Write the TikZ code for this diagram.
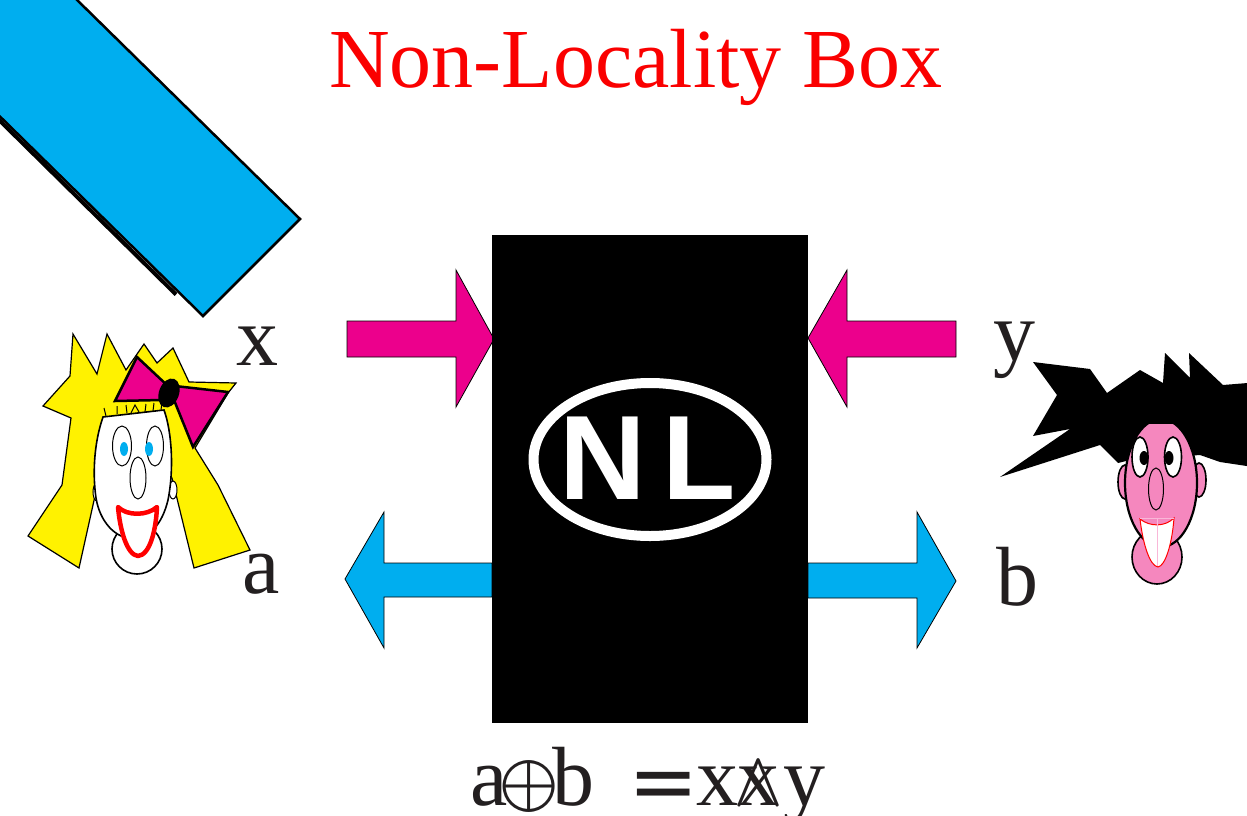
\documentclass[tikz,border=0pt]{standalone}
\usepackage{fontspec}
\setmainfont{Liberation Serif}
\newfontfamily\nlfont{Liberation Sans}
\newfontfamily\symfont{DejaVu Sans}
\newfontfamily\lmmath{latinmodern-math.otf}
\definecolor{barblue}{RGB}{0,174,239}
\definecolor{arrowpink}{RGB}{236,0,140}
\definecolor{hairyellow}{RGB}{255,242,0}
\definecolor{skinpink}{RGB}{245,135,190}
\definecolor{ink}{RGB}{35,31,32}
\definecolor{titlered}{RGB}{250,0,0}
\tikzset{
  letter/.style={inner sep=0pt, text=ink, anchor=base, font=\fontsize{84}{84}\selectfont},
  blockarrow/.style={draw=black, line width=0.8pt, line join=miter},
  outl/.style={draw=black, line width=1.6pt},
  thinoutl/.style={draw=black, line width=1pt},
}
\begin{document}
\begin{tikzpicture}[x=1pt,y=-1pt]
\useasboundingbox (0,0) rectangle (1247,816);

% ---- title ----
\node[inner sep=0pt, anchor=base, text=titlered, font=\fontsize{84}{84}\selectfont] (title) at (636,88) {Non-Locality Box};

% ---- slanted blue bar with its shadow ----
\draw[line width=4pt] (-82,40) -- (176,294.5);
\filldraw[fill=barblue, draw=black, line width=2.5pt, line join=miter]
  (15,-61) -- (300,219) -- (203,316) -- (-82,36) -- cycle;

% ---- block arrows ----
\filldraw[blockarrow, fill=arrowpink] (347,321) -- (456,321) -- (456,270) -- (494,339) -- (456,407) -- (456,357) -- (347,357) -- cycle;
\filldraw[blockarrow, fill=arrowpink] (956,321) -- (847,321) -- (847,270) -- (808,338) -- (847,407) -- (847,357) -- (956,357) -- cycle;
\filldraw[blockarrow, fill=barblue] (492,563) -- (384,563) -- (384,512) -- (345,579) -- (384,648) -- (384,597) -- (492,597) -- cycle;
\filldraw[blockarrow, fill=barblue] (808,563) -- (917,563) -- (917,512) -- (956,581) -- (917,648) -- (917,598) -- (808,598) -- cycle;

% ---- the NL box ----
\fill[black] (492,235) rectangle (808,723);
\draw[white, line width=10pt] (650,459.5) ellipse [x radius=116.5, y radius=76.5];
\node[inner sep=0pt, anchor=base, text=white, font=\nlfont\bfseries\fontsize{120}{120}\selectfont] (nl) at (647.5,499) {N\kern16.5pt L};

% ---- labels ----
\node[letter] (lx) at (257,365) {x};
\node[letter] (ly) at (1014,360) {y};
\node[letter] (la) at (261,593) {a};
\node[letter] (lb) at (1017,605) {b};
\node[letter, anchor=base west] (formula) at (473,805)
  {\makebox[31pt][c]{a}\makebox[49pt][c]{\lmmath\fontsize{76}{76}\selectfont ⊕}\makebox[40pt][c]{b}%
   \hspace{44pt}\makebox[53pt][c]{\raisebox{-5pt}{\symfont =}}\hspace{7pt}%
   \makebox[41pt][c]{x}\makebox[41pt][c]{\ooalign{\hfil x\hfil\cr\hfil{\lmmath\fontsize{78}{78}\selectfont ∧}\hfil\cr}}\makebox[51pt][c]{y}};

% ---- girl ----
\filldraw[fill=hairyellow, draw=black, line width=1.2pt, line join=miter]
  (28,536) -- (62,485) -- (71,418) -- (43,406) -- (70,376) -- (73,334) -- (97,374) -- (107,334)
  -- (126,370) -- (144,344) -- (157,363) -- (173,348) -- (189,382) -- (236,383) -- (228,393)
  -- (195,448) -- (218,485) -- (250,550) -- (194,568) -- (172,478) -- (97,487) -- (79,568) -- cycle;
\filldraw[fill=white, thinoutl] (97,492) ellipse [x radius=4, y radius=9];
\filldraw[fill=white, thinoutl] (173,490) ellipse [x radius=4, y radius=9];
\filldraw[fill=white, outl] (137,549) ellipse [x radius=25, y radius=25];
\filldraw[fill=white, outl]
  (103,417) -- (164,410) .. controls (172,432) and (174,470) .. (168,500)
  .. controls (162,525) and (149,538) .. (133,539)
  .. controls (115,538) and (100,522) .. (96,498)
  .. controls (92,470) and (95,440) .. (103,417) -- cycle;
\draw[line width=1pt] (106,416) -- (104,408) (117,414) -- (117,406) (127,413) -- (126,405)
  (131,413) -- (135,405) -- (139,412) (145,412) -- (146,404) (153,411) -- (154,403) (161,410) -- (162,402);
\filldraw[fill=white, thinoutl] (122,446) ellipse [x radius=9.5, y radius=20];
\filldraw[fill=white, thinoutl] (155,446) ellipse [x radius=8.5, y radius=20];
\fill[barblue] (124,449) ellipse [x radius=4, y radius=7];
\fill[barblue] (149,449) ellipse [x radius=4, y radius=7];
\filldraw[fill=white, thinoutl] (138,478) ellipse [x radius=8, y radius=21];
\filldraw[fill=white, draw=red, line width=4.5pt, line join=round]
  (118,507) .. controls (127,516) and (147,516) .. (157,507)
  .. controls (156,530) and (150,555) .. (138,556)
  .. controls (127,555) and (120,530) .. (118,507) -- cycle;
% bow
\filldraw[fill=arrowpink, draw=black, line width=2.5pt, line join=miter]
  (137,357) -- (169,387) -- (162,400) -- (115,401) -- cycle;
\filldraw[fill=arrowpink, draw=black, line width=2.5pt, line join=miter]
  (175,386) -- (228,392) -- (193,447) -- (174,400) -- cycle;
\fill[black, rotate around={-20:(169,393)}] (169,393) ellipse [x radius=10, y radius=15];

% ---- boy ----
\fill[black]
  (1033,362) -- (1090,369) -- (1107,393) -- (1140,370) -- (1163,383) -- (1165,353) -- (1190,378)
  -- (1189,353) -- (1223,385) -- (1260,382) -- (1260,468) -- (1220,462) -- (1200,455) -- (1130,460)
  -- (1118,463) -- (1100,445) -- (1000,477) -- (1070,429) -- (1033,436) -- (1057,395) -- cycle;
\filldraw[fill=skinpink, outl] (1125,482) ellipse [x radius=7, y radius=17];
\filldraw[fill=skinpink, outl] (1199,480) ellipse [x radius=7, y radius=17];
\filldraw[fill=skinpink, outl] (1157,557) ellipse [x radius=25, y radius=27];
\begin{scope}
  \clip (1100,424) rectangle (1230,600);
  \filldraw[fill=skinpink, draw=black, line width=2.2pt] (1161,483) ellipse [x radius=36, y radius=64];
\end{scope}
\filldraw[fill=white, outl] (1140,457) ellipse [x radius=8, y radius=20];
\filldraw[fill=white, outl] (1173,457) ellipse [x radius=8.5, y radius=20];
\fill[black] (1144,458) ellipse [x radius=4.5, y radius=7];
\fill[black] (1169,458) ellipse [x radius=4.5, y radius=7];
\filldraw[fill=skinpink, thinoutl] (1156,489) ellipse [x radius=7.5, y radius=21];
\filldraw[fill=white, draw=red, line width=1pt]
  (1140,519) .. controls (1150,527) and (1165,527) .. (1174,518)
  .. controls (1172,545) and (1165,566) .. (1158,567)
  .. controls (1150,566) and (1143,545) .. (1140,519) -- cycle;
\draw[skinpink!60, line width=0.6pt] (1157,518) -- (1157,566) (1140,518) -- (1174,518);
\end{tikzpicture}
\end{document}
